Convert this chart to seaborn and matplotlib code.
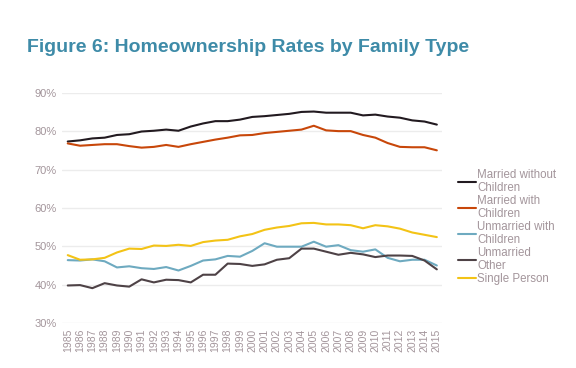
import numpy as np
import pandas as pd
import matplotlib
matplotlib.use('Agg')
import matplotlib.pyplot as plt
import matplotlib.ticker as mticker
import seaborn as sns

years = list(range(1985, 2016))

married_no_kids = [77.3, 77.6, 78.1, 78.3, 79.0, 79.2, 79.9, 80.1, 80.4, 80.1, 81.2,
                   82.0, 82.6, 82.6, 83.0, 83.7, 83.9, 84.2, 84.5, 85.0, 85.1,
                   84.8, 84.8, 84.8, 84.1, 84.3, 83.8, 83.5, 82.8, 82.5, 81.7]
married_kids = [76.8, 76.2, 76.4, 76.6, 76.6, 76.1, 75.7, 75.9, 76.4, 75.9, 76.6,
                77.2, 77.8, 78.3, 78.9, 79.0, 79.5, 79.8, 80.1, 80.4, 81.4,
                80.2, 80.0, 80.0, 79.0, 78.3, 76.9, 75.9, 75.8, 75.8, 75.0]
unmarried_kids = [46.4, 46.3, 46.6, 46.1, 44.5, 44.8, 44.3, 44.1, 44.6, 43.7, 44.9,
                  46.3, 46.6, 47.5, 47.3, 48.8, 50.8, 49.9, 49.9, 49.9, 51.2,
                  49.9, 50.3, 49.0, 48.6, 49.2, 47.0, 46.1, 46.5, 46.5, 45.0]
unmarried_other = [39.8, 39.9, 39.1, 40.4, 39.8, 39.5, 41.4, 40.6, 41.3, 41.2, 40.6,
                   42.6, 42.6, 45.5, 45.4, 44.9, 45.3, 46.5, 46.9, 49.4, 49.4,
                   48.6, 47.8, 48.3, 47.9, 47.2, 47.6, 47.6, 47.5, 46.3, 44.0]
single_person = [47.7, 46.5, 46.6, 47.0, 48.4, 49.4, 49.3, 50.2, 50.1, 50.4, 50.1,
                 51.1, 51.5, 51.7, 52.6, 53.2, 54.3, 54.9, 55.3, 56.0, 56.1,
                 55.7, 55.7, 55.5, 54.7, 55.5, 55.2, 54.6, 53.6, 53.0, 52.4]

labels = ['Married without\nChildren', 'Married with\nChildren',
          'Unmarried with\nChildren', 'Unmarried\nOther', 'Single Person']
colors = ['#221A20', '#C8470A', '#6EAAC0', '#4E4246', '#F3C316']

series = [married_no_kids, married_kids, unmarried_kids, unmarried_other, single_person]
df = pd.concat([pd.DataFrame({'year': years, 'rate': vals, 'type': lab})
                for lab, vals in zip(labels, series)], ignore_index=True)

sns.set_style('white')
plt.rcParams['font.family'] = ['Liberation Sans', 'DejaVu Sans']

tick_color = '#A3959B'

fig = plt.figure(figsize=(5.76, 3.68), dpi=100)
ax = fig.add_axes([0.108, 0.122, 0.66, 0.626])

sns.lineplot(data=df, x='year', y='rate', hue='type', palette=colors,
             hue_order=labels, linewidth=1.5, ax=ax)

ax.set_ylim(30, 90)
ax.set_xlim(1984.55, 2015.45)
ax.yaxis.set_major_locator(mticker.MultipleLocator(10))
ax.yaxis.set_major_formatter(mticker.FuncFormatter(lambda v, p: f'{v:.0f}%'))
ax.set_xticks(years)
ax.set_xticklabels([str(y) for y in years], rotation=90)
ax.tick_params(axis='both', length=0, colors=tick_color, labelsize=7.5, pad=4)
ax.tick_params(axis='y', labelsize=8)
ax.grid(axis='y', color='#ECECEC', linewidth=1)
ax.set_axisbelow(True)
for s in ax.spines.values():
    s.set_visible(False)
ax.set_xlabel('')
ax.set_ylabel('')

leg = ax.legend(loc='upper left', bbox_to_anchor=(1.03, 0.69), frameon=False,
                fontsize=8.3, handlelength=1.5, handletextpad=0.15, labelspacing=0.1,
                borderaxespad=0)
for t in leg.get_texts():
    t.set_color(tick_color)
    t.set_linespacing(1.1)

fig.text(0.047, 0.872, 'Figure 6: Homeownership Rates by Family Type',
         fontsize=14, fontweight='bold', color='#3E8BA8', va='center', ha='left')

fig.savefig('out.png', dpi=100)
